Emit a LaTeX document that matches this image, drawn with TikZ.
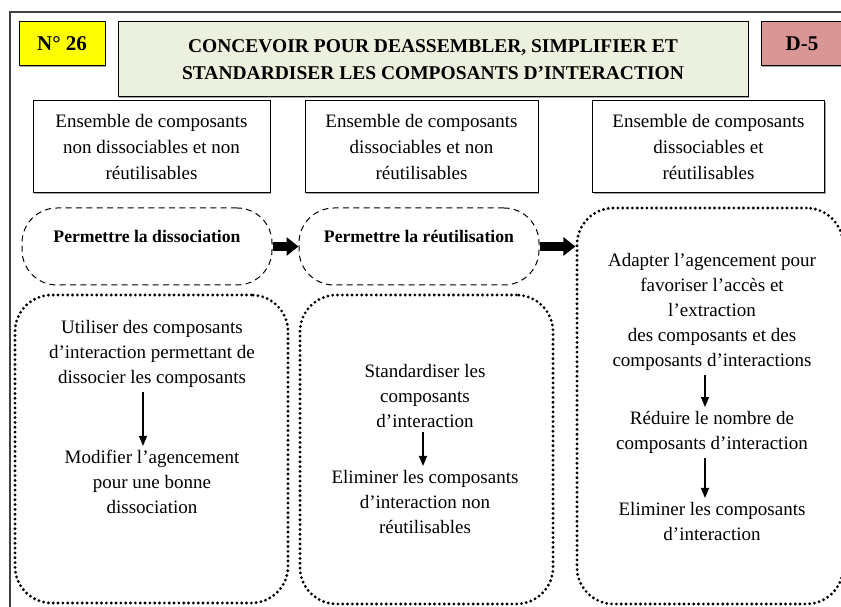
\documentclass[tikz,border=0pt]{standalone}
\usepackage{fontspec}
\setmainfont{Liberation Serif}
\usetikzlibrary{arrows.meta, calc, shadows}
\definecolor{numyellow}{RGB}{255, 255, 0}
\definecolor{titlegreen}{RGB}{235, 241, 222}
\definecolor{codered}{RGB}{217, 150, 148}
\definecolor{framegray}{RGB}{64, 64, 64}
\newcommand{\normtext}{\fontsize{11.4}{15}\selectfont}

\begin{document}
\begin{tikzpicture}[
  x=0.6pt, y=-0.6pt,
  tag/.style={draw, line width=0.6pt, align=center, inner sep=2pt, font=\fontsize{11.7}{16}\selectfont\bfseries,
    drop shadow={shadow xshift=0.8pt, shadow yshift=-0.8pt, fill=gray!70, opacity=1}},
  bigtag/.style={tag, font=\fontsize{12.6}{16}\selectfont\bfseries, minimum height=26.4pt},
  setbox/.style={draw, line width=0.6pt, fill=white, align=center, minimum height=55.2pt, font=\fontsize{11.4}{15.8}\selectfont,
    drop shadow={shadow xshift=0.8pt, shadow yshift=-0.8pt, fill=gray!70, opacity=1}},
  goal/.style={draw, line width=0.6pt, dash pattern=on 3.6pt off 2.6pt, rounded corners=21pt, minimum height=46.2pt,
    text height=18.6pt, text depth=22.8pt, inner ysep=2.4pt, font=\fontsize{10.6}{13}\selectfont\bfseries},
  group/.style={draw, line width=1.9pt, dash pattern=on 0pt off 2.9pt, line cap=round, rounded corners=22pt},
  note/.style={align=center, inner sep=2.4pt, font=\normtext},
  flow/.style={-{Triangle[length=6pt, width=4.8pt]}, line width=0.8pt},
  push/.style={-{Triangle[length=7.2pt, width=10.8pt]}, line width=5pt}
]
  \useasboundingbox (0,0) rectangle (841,607);
  \clip (0,0) rectangle (841,607);
  \draw[framegray, line width=1pt] (10,12) rectangle (900,700);

  % header
  \node[bigtag, fill=numyellow, minimum width=51.6pt] (num) at (62,44) {N° 26};
  \node[tag, fill=titlegreen, minimum width=378pt, minimum height=45pt] (title) at (433,59.5)
    {CONCEVOIR POUR DEASSEMBLER, SIMPLIFIER ET\\STANDARDISER LES COMPOSANTS D’INTERACTION};
  \node[bigtag, fill=codered, minimum width=49.2pt] (code) at (802,44) {D-5};

  % starting states
  \node[setbox, minimum width=142.2pt] (e1) at (151.5,147)
    {Ensemble de composants\\non dissociables et non\\réutilisables};
  \node[setbox, minimum width=139.8pt] (e2) at (421.5,147)
    {Ensemble de composants\\dissociables et non\\réutilisables};
  \node[setbox, minimum width=139.2pt] (e3) at (708.5,147)
    {Ensemble de composants\\dissociables et\\réutilisables};

  % goals
  \node[goal, minimum width=150pt] (d1) at (147,246.5) {Permettre la dissociation};
  \node[goal, minimum width=144pt] (d2) at (419,246.5) {Permettre la réutilisation};

  % groups of actions
  \node[group, minimum width=163.8pt, minimum height=184.8pt] (b1) at (151.5,449) {};
  \node[group, minimum width=151.8pt, minimum height=185.4pt] (b2) at (426.5,449.5) {};
  \node[group, minimum width=159.6pt, minimum height=237.6pt] (b3) at (710,406) {};

  \draw[push] (d1.east) -- (d2.west);
  \draw[push] (d2.east) -- (d2.east -| b3.west);

  % actions
  \node[note] (t11) at (152,354) {Utiliser des composants\\d’interaction permettant de\\dissocier les composants};
  \node[note] (t12) at (152,482) {Modifier l’agencement\\pour une bonne\\dissociation};
  \node[note] (t21) at (425,396) {Standardiser les\\composants\\d’interaction};
  \node[note] (t22) at (425,502) {Eliminer les composants\\d’interaction non\\réutilisables};
  \node[note] (t31) at (712,312) {Adapter l’agencement pour\\favoriser l’accès et\\l’extraction\\des composants et des\\composants d’interactions};
  \node[note] (t32) at (712,432.5) {Réduire le nombre de\\composants d’interaction};
  \node[note] (t33) at (712,521.5) {Eliminer les composants\\d’interaction};

  \draw[flow] ($(t11.south)+(-9,0)$) -- ($(t12.north)+(-9,0)$);
  \draw[flow] ($(t21.south)+(-2,0)$) -- ($(t22.north)+(-2,0)$);
  \draw[flow] ($(t31.south)+(-7,0)$) -- ($(t32.north)+(-7,0)$);
  \draw[flow] ($(t32.south)+(-7,0)$) -- ($(t33.north)+(-7,0)$);
\end{tikzpicture}
\end{document}
